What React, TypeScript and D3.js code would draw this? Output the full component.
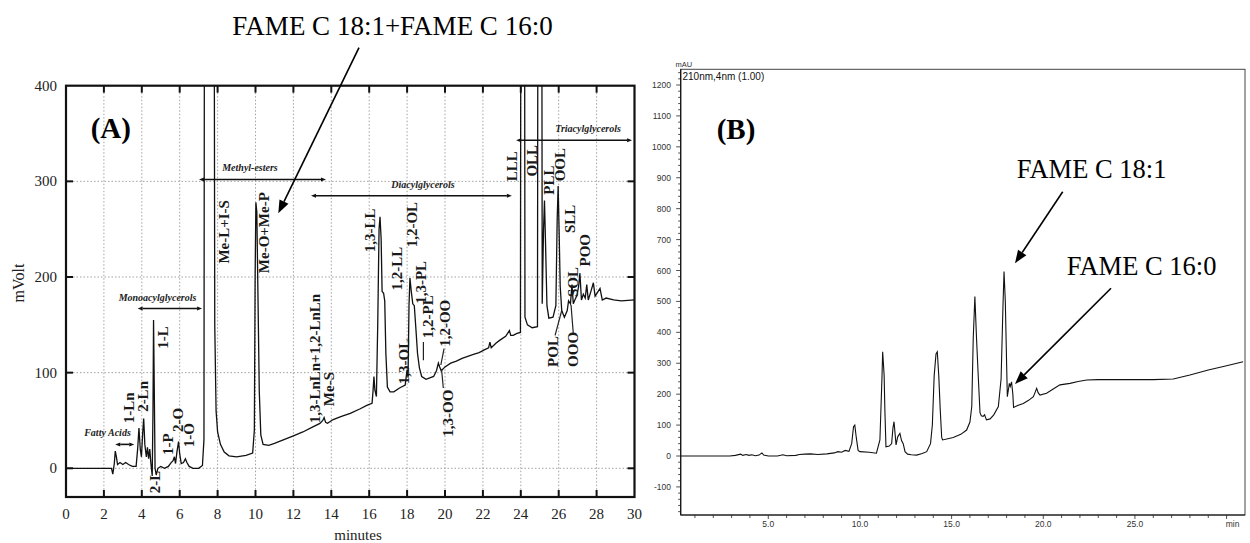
import React from 'react';
import * as d3 from 'd3';

// ---------- Panel A data (minutes, mVolt) ----------
const timeA = [0, 2.4, 2.47, 2.55, 2.6, 2.66, 2.72, 2.85, 3.0, 3.15, 3.3, 3.5, 3.7, 3.78, 3.85, 3.92, 3.98, 4.05, 4.1, 4.16, 4.24, 4.3, 4.36, 4.42, 4.48, 4.55, 4.59, 4.62, 4.66, 4.7, 4.76, 4.85, 5.0, 5.2, 5.4, 5.55, 5.65, 5.72, 5.78, 5.86, 5.94, 6.0, 6.08, 6.2, 6.3, 6.38, 6.5, 6.7, 7.0, 7.2, 7.28, 7.33, 7.78, 7.85, 7.92, 8.0, 8.15, 8.35, 8.6, 9.0, 9.5, 9.85, 9.94, 9.98, 10.02, 10.07, 10.13, 10.2, 10.28, 10.4, 10.7, 11.0, 11.5, 12.0, 12.5, 13.0, 13.4, 13.55, 13.62, 13.7, 13.8, 14.1, 14.5, 15.0, 15.5, 15.9, 16.15, 16.2, 16.25, 16.3, 16.38, 16.45, 16.52, 16.57, 16.63, 16.68, 16.76, 16.82, 16.88, 16.96, 17.1, 17.3, 17.6, 17.9, 18.0, 18.05, 18.1, 18.15, 18.22, 18.3, 18.38, 18.45, 18.55, 18.65, 18.77, 19.0, 19.4, 19.55, 19.65, 19.72, 19.8, 20.0, 20.3, 20.6, 20.9, 21.2, 21.5, 21.8, 22.1, 22.3, 22.37, 22.44, 22.7, 22.9, 23.2, 23.4, 23.47, 23.6, 23.8, 23.98, 24.03, 24.17, 24.22, 24.35, 24.6, 24.88, 24.93, 25.08, 25.13, 25.2, 25.25, 25.3, 25.38, 25.48, 25.7, 25.85, 25.92, 25.97, 26.02, 26.08, 26.16, 26.3, 26.45, 26.52, 26.62, 26.7, 26.77, 26.85, 26.95, 27.05, 27.12, 27.2, 27.3, 27.4, 27.48, 27.56, 27.7, 27.83, 27.92, 28.05, 28.18, 28.3, 28.5, 28.9, 29.3, 30];
const mVoltA = [0, 0, -6, 5, 18, 12, 4, 6, 4, 6, 4, 2, 2, 20, 42, 20, 12, 38, 52, 25, 12, 22, 10, 20, 5, -8, 60, 155, 80, 0, -7, 0, 2, 0, 2, 6, 8, 12, 5, 18, 28, 15, 5, 6, 10, 6, 2, 0, 0, 3, 30, 1000, 1000, 150, 60, 38, 25, 17, 13, 12, 13.5, 16, 40, 200, 278, 268, 180, 80, 35, 25, 24, 26, 30, 34, 38, 43, 47, 50, 53, 48, 47, 51, 54, 57.5, 62, 66, 68, 80, 96, 82, 75, 150, 250, 263, 240, 185, 183, 175, 120, 85, 80, 80, 84, 87, 103, 95, 170, 199, 185, 172, 170, 150, 120, 105, 96, 93, 96, 102, 110, 106, 102, 106, 110, 112, 115, 117, 119, 121, 124, 126, 132, 126, 131, 134, 138, 144, 139, 139, 141, 142, 1000, 1000, 158, 150, 147, 148, 1000, 1000, 172, 250, 280, 240, 170, 157, 158, 170, 260, 295, 250, 190, 165, 158, 165, 175, 172, 192, 172, 176, 180, 190, 204, 176, 182, 178, 192, 176, 185, 194, 180, 184, 188, 176, 178, 176, 175, 176];

const aXTicks = d3.range(0, 31, 2);
const aYTicks = [0, 100, 200, 300, 400];

// compound peak labels in panel A: [text, minutes, mVolt at label start]
const peakLabelsA: [string, number, number][] = [
  ['1-Ln', 3.32, 47], ['2-Ln', 4.08, 59], ['2-L', 4.7, -26], ['1-L', 5.13, 125],
  ['1-P', 5.4, 14], ['2-O', 5.89, 38], ['1-O', 6.49, 22],
  ['Me-L+I-S', 8.34, 214], ['Me-O+Me-P', 10.45, 204],
  ['1,3-LnLn+1,2-LnLn', 13.14, 47], ['Me-S', 13.88, 65],
  ['1,3-LL', 16.04, 226], ['1,2-LL', 17.45, 186], ['1,3-OL', 17.84, 88],
  ['1,2-OL', 18.27, 231], ['1,3-PL', 18.73, 172], ['1,2-PL', 19.12, 136],
  ['1,2-OO', 20.0, 127], ['1,3-OO', 20.17, 33],
  ['LLL', 23.55, 300], ['OLL', 24.57, 305], ['PLL', 25.49, 286], ['OOL', 26.07, 300],
  ['SLL', 26.6, 246], ['POO', 27.39, 211], ['SOL', 26.77, 179], ['POL', 25.71, 106], ['OOO', 26.77, 106],
];
// leader lines [t1, v1, t2, v2]
const leadersA: [number, number, number, number][] = [
  [18.86, 132, 18.86, 113], [25.81, 139, 26.16, 165], [26.77, 141, 26.65, 171],
  [19.91, 84, 19.82, 103], [19.95, 125, 19.78, 108],
];
// compound-class ranges: [text, fromMin, toMin, mVolt of bar, text centre min]
const groupsA: [string, number, number, number, number][] = [
  ['Fatty Acids', 2.6, 3.6, 25, 2.19],
  ['Monoacylglycerols', 3.78, 7.18, 167, 4.83],
  ['Methyl-esters', 7.02, 13.72, 302, 9.71],
  ['Diacylglycerols', 12.93, 23.53, 285, 18.84],
  ['Triacylglycerols', 23.75, 29.87, 343, 27.55],
];

// ---------- Panel B data (min, mAU) ----------
const timeB = [0.2, 2.9, 3.2, 3.5, 3.6, 3.8, 3.95, 4.1, 4.3, 4.5, 4.65, 4.75, 5.0, 5.5, 5.8, 6.0, 6.5, 6.7, 7.0, 7.3, 7.7, 8.2, 8.6, 8.8, 9.0, 9.2, 9.4, 9.55, 9.65, 9.72, 9.8, 9.9, 10.0, 10.5, 10.9, 11.09, 11.2, 11.24, 11.28, 11.32, 11.36, 11.42, 11.6, 11.73, 11.8, 11.86, 11.92, 11.97, 12.06, 12.18, 12.27, 12.36, 12.46, 12.6, 12.8, 13.09, 13.4, 13.64, 13.85, 13.95, 14.05, 14.15, 14.22, 14.3, 14.38, 14.46, 14.51, 15.09, 15.5, 15.82, 16.0, 16.1, 16.18, 16.27, 16.36, 16.46, 16.55, 16.62, 16.72, 16.8, 16.9, 17.1, 17.3, 17.55, 17.7, 17.8, 17.86, 17.93, 18.0, 18.04, 18.1, 18.15, 18.2, 18.27, 18.34, 18.38, 18.6, 18.91, 19.2, 19.46, 19.55, 19.64, 19.72, 19.82, 20.18, 20.5, 20.91, 21.46, 21.9, 22.37, 23, 24, 25, 26, 27.09, 28, 29, 30, 30.9];
const mAUB = [0, 0, 2, 6, 2, 5, 2, 4, 1, 3, 10, 3, 0, 0, 4, 1, 2, 5, 6, 7, 5, 7, 10, 14, 12, 18, 15, 40, 95, 100, 60, 18, 14, 12, 9, 52, 250, 337, 300, 260, 150, 30, 32, 40, 90, 111, 70, 36, 62, 73, 50, 40, 14, 6, 4, 3, 8, 14, 40, 100, 260, 330, 337, 260, 150, 60, 52, 60, 70, 84, 110, 160, 380, 516, 380, 250, 140, 130, 128, 133, 117, 120, 133, 160, 250, 480, 597, 500, 300, 192, 215, 235, 225, 240, 200, 157, 163, 170, 180, 192, 205, 219, 205, 197, 203, 215, 230, 235, 241, 246, 247, 247, 247, 247, 249, 262, 278, 292, 305];

const bYLabels = d3.range(-100, 1201, 100);
const bYMinor = d3.range(-180, 1241, 20);
const bXMinor = d3.range(1, 31, 1);
const bXLabels: [number, string][] = [[5, '5.0'], [10, '10.0'], [15, '15.0'], [20, '20.0'], [25, '25.0']];

const serif = "'Liberation Serif','Times New Roman',Times,serif";
const sans = "'Liberation Sans',Arial,Helvetica,sans-serif";

function head(x1: number, y1: number, x2: number, y2: number, len: number, half: number) {
  const a = Math.atan2(y2 - y1, x2 - x1);
  const bx = x2 - len * Math.cos(a), by = y2 - len * Math.sin(a);
  const px = -Math.sin(a) * half, py = Math.cos(a) * half;
  return { pts: `${x2},${y2} ${bx + px},${by + py} ${bx - px},${by - py}`, bx, by };
}

function Arrow({ x1, y1, x2, y2, len = 13, half = 5, sw = 1.6 }: any) {
  const h = head(x1, y1, x2, y2, len, half);
  return (
    <g>
      <line x1={x1} y1={y1} x2={h.bx} y2={h.by} stroke="#000" strokeWidth={sw} />
      <polygon points={h.pts} fill="#000" />
    </g>
  );
}

function DoubleArrow({ x1, y, x2 }: any) {
  const a = head(x2, y, x1, y, 5, 2);
  const b = head(x1, y, x2, y, 5, 2);
  return (
    <g>
      <line x1={a.bx} y1={y} x2={b.bx} y2={y} stroke="#111" strokeWidth={1.6} />
      <polygon points={a.pts} fill="#111" />
      <polygon points={b.pts} fill="#111" />
    </g>
  );
}

export default function App() {
  // Panel A scales
  const xA = d3.scaleLinear().domain([0, 30]).range([66, 634.5]);
  const yA = d3.scaleLinear().domain([-30, 400]).range([497, 85.7]);
  const aL = xA(0), aR = xA(30), aT = yA(400), aB = yA(-30);
  const lineA = d3.line<number>().x((d, i) => xA(timeA[i])).y((d) => yA(d));

  // Panel B scales
  const xB = d3.scaleLinear().domain([0, 30]).range([676.6, 1226.6]);
  const yB = d3.scaleLinear().domain([0, 1200]).range([456, 85]);
  const bL = 680.7, bR = 1245, bT = 69.3, bB = 515;
  const lineB = d3.line<number>().x((d, i) => xB(timeB[i])).y((d) => yB(d));

  return (
    <svg width={1250} height={543} style={{ position: 'absolute', left: 0, top: 0, background: '#fff' }}>
      <defs>
        <clipPath id="clipA"><rect x={aL} y={aT} width={aR - aL} height={aB - aT} /></clipPath>
      </defs>
      <rect x={0} y={0} width={1250} height={543} fill="#fff" />

      {/* ===== Panel A ===== */}
      <g>
        {aXTicks.filter((t) => t > 0 && t < 30).map((t) => (
          <line key={'gx' + t} x1={xA(t)} x2={xA(t)} y1={aT} y2={aB} stroke="#999" strokeWidth={0.9} strokeDasharray="1.5,2" />
        ))}
        {aYTicks.filter((v) => v < 400).map((v) => (
          <line key={'gy' + v} x1={aL} x2={aR} y1={yA(v)} y2={yA(v)} stroke="#999" strokeWidth={0.9} strokeDasharray="1.5,2" />
        ))}
        {aXTicks.filter((t) => t > 0 && t < 30).map((t) => (
          <g key={'tx' + t}>
            <line x1={xA(t)} x2={xA(t)} y1={aB} y2={aB - 7} stroke="#111" strokeWidth={2} />
            <line x1={xA(t)} x2={xA(t)} y1={aT} y2={aT + 7} stroke="#111" strokeWidth={2} />
          </g>
        ))}
        {aYTicks.filter((v) => v < 400).map((v) => (
          <g key={'ty' + v}>
            <line x1={aL} x2={aL + 7} y1={yA(v)} y2={yA(v)} stroke="#111" strokeWidth={2} />
            <line x1={aR} x2={aR - 7} y1={yA(v)} y2={yA(v)} stroke="#111" strokeWidth={2} />
          </g>
        ))}
        <path d={lineA(mVoltA) || ''} fill="none" stroke="#111" strokeWidth={1.3} clipPath="url(#clipA)" />
        <rect x={aL} y={aT} width={aR - aL} height={aB - aT} fill="none" stroke="#111" strokeWidth={2.2} />
        {aXTicks.map((t) => (
          <text key={'lx' + t} x={xA(t)} y={519} textAnchor="middle" fontFamily={serif} fontSize={15} fill="#222">{t}</text>
        ))}
        {aYTicks.map((v) => (
          <text key={'ly' + v} x={57} y={yA(v) + 5} textAnchor="end" fontFamily={serif} fontSize={15} fill="#222">{v}</text>
        ))}
        <text x={358} y={540} textAnchor="middle" fontFamily={serif} fontSize={15} fill="#222">minutes</text>
        <text transform={`translate(24,283) rotate(-90)`} textAnchor="middle" fontFamily={serif} fontSize={16} fill="#222">mVolt</text>

        {groupsA.map(([txt, t1, t2, v, tc]) => (
          <g key={txt}>
            <DoubleArrow x1={xA(t1)} x2={xA(t2)} y={yA(v)} />
            <text x={xA(tc)} y={yA(v) - 8} textAnchor="middle" fontFamily={serif} fontStyle="italic" fontWeight="bold" fontSize={10} fill="#222">{txt}</text>
          </g>
        ))}
        {peakLabelsA.map(([txt, t, v]) => (
          <text key={txt} transform={`translate(${xA(t)},${yA(v)}) rotate(-90)`} dominantBaseline="central" fontFamily={serif} fontWeight="bold" fontSize={15} fill="#1a1a1a">{txt}</text>
        ))}
        {leadersA.map(([t1, v1, t2, v2], i) => (
          <line key={'ld' + i} x1={xA(t1)} y1={yA(v1)} x2={xA(t2)} y2={yA(v2)} stroke="#222" strokeWidth={1.2} />
        ))}
        <text x={90.7} y={138} fontFamily={serif} fontWeight="bold" fontSize={29} fill="#000">(A)</text>
      </g>

      {/* top annotation */}
      <text x={392.5} y={35} textAnchor="middle" fontFamily={serif} fontSize={27} fill="#000">FAME C 18:1+FAME C 16:0</text>
      <Arrow x1={359} y1={47.7} x2={278.3} y2={213.3} />

      {/* ===== Panel B ===== */}
      <g>
        <rect x={bL} y={bT} width={bR - bL} height={bB - bT} fill="none" stroke="#444" strokeWidth={1} />
        <line x1={bL} x2={bL} y1={bT} y2={bB} stroke="#111" strokeWidth={1.2} />
        <line x1={bL} x2={bR} y1={bB} y2={bB} stroke="#111" strokeWidth={1.2} />
        {bYMinor.map((v) => (
          <line key={'bm' + v} x1={bL} x2={bL - (v % 100 === 0 ? 4.5 : 2.5)} y1={yB(v)} y2={yB(v)} stroke="#222" strokeWidth={0.8} />
        ))}
        {bYLabels.map((v) => (
          <text key={'bl' + v} x={671} y={yB(v) + 3} textAnchor="end" fontFamily={sans} fontSize={8.5} fill="#333">{v}</text>
        ))}
        {bXMinor.map((t) => (
          <line key={'bx' + t} x1={xB(t)} x2={xB(t)} y1={bB} y2={bB + (t % 5 === 0 ? 4 : 3)} stroke="#222" strokeWidth={0.8} />
        ))}
        {bXLabels.map(([t, s]) => (
          <text key={'bxl' + t} x={xB(t)} y={526.5} textAnchor="middle" fontFamily={sans} fontSize={8.5} fill="#333">{s}</text>
        ))}
        <text x={xB(30) + 6} y={526.5} textAnchor="middle" fontFamily={sans} fontSize={8.5} fill="#333">min</text>
        <text x={675.5} y={67} fontFamily={sans} fontSize={7.5} fill="#333">mAU</text>
        <text x={682.5} y={79.5} fontFamily={sans} fontSize={10} fill="#111">210nm,4nm (1.00)</text>
        <path d={lineB(mAUB) || ''} fill="none" stroke="#111" strokeWidth={1.1} />
        <text x={716.7} y={139} fontFamily={serif} fontWeight="bold" fontSize={29} fill="#000">(B)</text>
        <text x={1016.7} y={178} fontFamily={serif} fontSize={26.5} fill="#000">FAME C 18:1</text>
        <text x={1066.7} y={275} fontFamily={serif} fontSize={26.5} fill="#000">FAME C 16:0</text>
        <Arrow x1={1062.7} y1={191.7} x2={1015} y2={263.3} />
        <Arrow x1={1111} y1={288.3} x2={1015} y2={384} />
      </g>
    </svg>
  );
}
